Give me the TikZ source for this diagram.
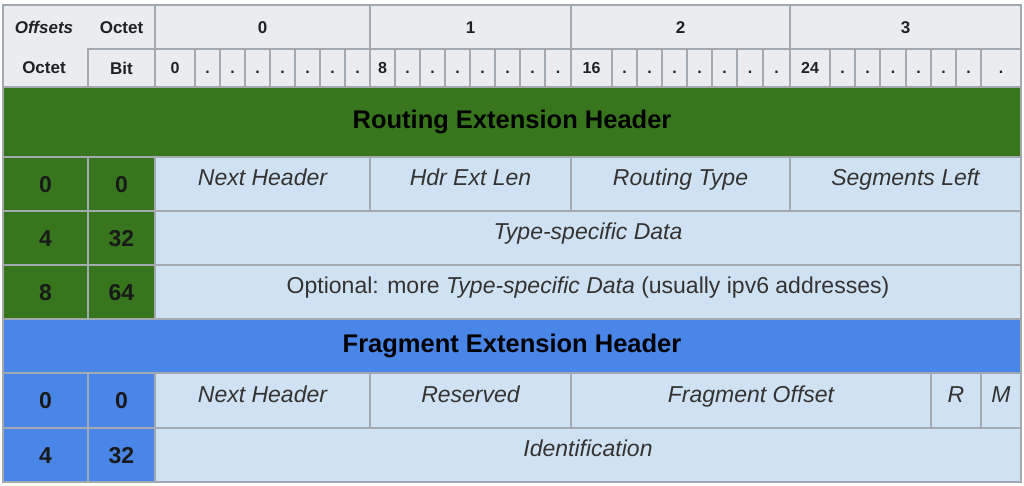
\documentclass[tikz,border=0pt]{standalone}
\usepackage{fontspec}
\setmainfont{Liberation Sans}

\definecolor{rulegray}{HTML}{A2A9B1}
\definecolor{headgray}{HTML}{EAECF0}
\definecolor{routegreen}{HTML}{38761D}
\definecolor{fragblue}{HTML}{4A86E8}
\definecolor{fieldblue}{HTML}{CFE2F3}
\definecolor{inkdark}{HTML}{202122}

\tikzset{
  cell/.style={draw=rulegray, line width=1.6pt, inner sep=0pt, outer sep=0pt},
  span/.style n args={4}{minimum width={(#3-#1)*1pt}, minimum height={(#4-#2)*1pt},
    at={({(#1+#3)/2},{(#2+#4)/2})}},
  headcell/.style={cell, fill=headgray, text=inkdark,
    font=\fontsize{17}{20}\selectfont\bfseries, text height=12.5pt, text depth=0pt},
  bitcell/.style={headcell, font=\fontsize{16}{19}\selectfont\bfseries, text height=11.5pt},
  band/.style={cell, text=black, font=\fontsize{25.5}{30}\selectfont\bfseries,
    text height=19pt, text depth=6pt},
  offcell/.style={cell, text=black!90, font=\fontsize{23}{27}\selectfont\bfseries,
    text height=16.5pt, text depth=0pt},
  field/.style={cell, fill=fieldblue, text=black!80,
    font=\fontsize{23}{27}\selectfont\itshape, text height=16.5pt, text depth=13.5pt},
}

\begin{document}
\begin{tikzpicture}[x=1pt, y=-1pt]
\fill[white] (0,0) rectangle (1024,485);
\useasboundingbox (0,0) rectangle (1024,485);

% header rows
\node[headcell, span={3}{5}{155}{87}] (corner) {};
\node[headcell, draw=none, fill=none, font=\fontsize{17}{20}\selectfont\bfseries\itshape] (offsets) at (44,27) {Offsets};
\node[headcell, draw=none, fill=none] (octettop) at (121.5,27) {Octet};
\node[headcell, draw=none, fill=none] (octetleft) at (44,67) {Octet};
\node[headcell, span={88}{49}{155}{87}] (bithead) {Bit};
\foreach \xa/\xb/\lbl in {155/370/0, 370/571/1, 571/790/2, 790/1021/3}
  \node[headcell, span={\xa}{5}{\xb}{49}] (oct\lbl) {\lbl};
\foreach \xa/\xb/\lbl [count=\i] in {155/195/0, 195/220/., 220/245/., 245/270/., 270/295/., 295/320/., 320/345/., 345/370/.,
    370/395/8, 395/420/., 420/445/., 445/470/., 470/495/., 495/520/., 520/545/., 545/571/.,
    571/612/16, 612/637/., 637/662/., 662/687/., 687/712/., 712/737/., 737/763/., 763/790/.,
    790/830/24, 830/855/., 855/880/., 880/906/., 906/931/., 931/956/., 956/981/., 981/1021/.}
  \node[bitcell, span={\xa}{49}{\xb}{87}] (bit\i) {\lbl};

% routing extension header
\node[band, fill=routegreen, span={3}{87}{1021}{157}] (routing) {Routing Extension Header};
\node[offcell, fill=routegreen, span={3}{157}{88}{211}] (roct0) {0};
\node[offcell, fill=routegreen, span={88}{157}{155}{211}] (rbit0) {0};
\node[field, span={155}{157}{370}{211}] (rnext) {Next Header};
\node[field, span={370}{157}{571}{211}] (rlen) {Hdr Ext Len};
\node[field, span={571}{157}{790}{211}] (rtype) {Routing Type};
\node[field, span={790}{157}{1021}{211}] (rleft) {Segments Left};
\node[offcell, fill=routegreen, span={3}{211}{88}{265}] (roct4) {4};
\node[offcell, fill=routegreen, span={88}{211}{155}{265}] (rbit32) {32};
\node[field, span={155}{211}{1021}{265}] (rdata) {Type-specific Data};
\node[offcell, fill=routegreen, span={3}{265}{88}{319}] (roct8) {8};
\node[offcell, fill=routegreen, span={88}{265}{155}{319}] (rbit64) {64};
\node[field, span={155}{265}{1021}{319}] (rmore) {\upshape Optional: more \textit{Type-specific Data} (usually ipv6 addresses)};

% fragment extension header
\node[band, fill=fragblue, span={3}{319}{1021}{373}] (fragment) {Fragment Extension Header};
\node[offcell, fill=fragblue, span={3}{373}{88}{428}] (foct0) {0};
\node[offcell, fill=fragblue, span={88}{373}{155}{428}] (fbit0) {0};
\node[field, span={155}{373}{370}{428}] (fnext) {Next Header};
\node[field, span={370}{373}{571}{428}] (fres) {Reserved};
\node[field, span={571}{373}{931}{428}] (foffset) {Fragment Offset};
\node[field, span={931}{373}{981}{428}] (fr) {R};
\node[field, span={981}{373}{1021}{428}] (fm) {M};
\node[offcell, fill=fragblue, span={3}{428}{88}{482}] (foct4) {4};
\node[offcell, fill=fragblue, span={88}{428}{155}{482}] (fbit32) {32};
\node[field, span={155}{428}{1021}{482}] (fid) {Identification};

\node[cell, span={3}{5}{1021}{482}] (frame) {};
\end{tikzpicture}
\end{document}
